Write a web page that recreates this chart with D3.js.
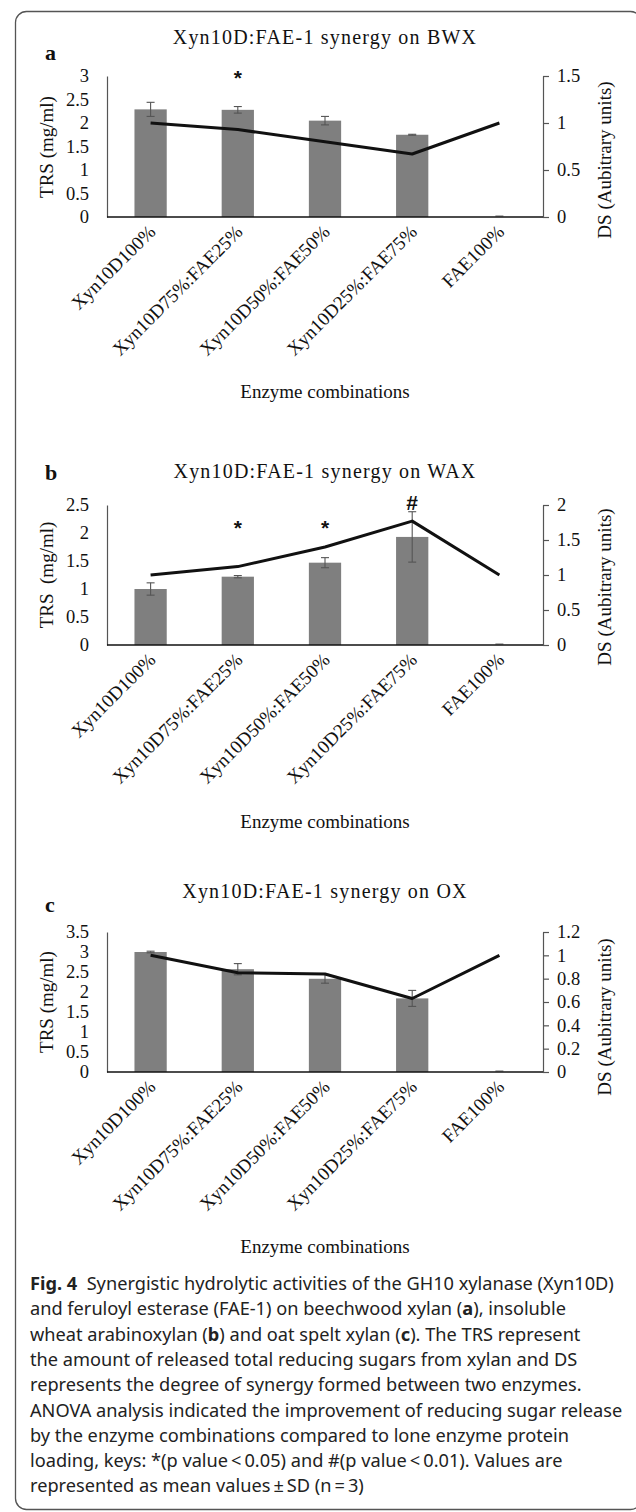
<!DOCTYPE html>
<html><head><meta charset="utf-8">
<script src="https://cdn.jsdelivr.net/npm/d3@7/dist/d3.min.js"></script>
<style>
body{margin:0;background:#fff;}
svg{display:block;}
</style></head>
<body>
<script>
// ---------- DATA ----------
const categories = ["Xyn10D100%","Xyn10D75%:FAE25%","Xyn10D50%:FAE50%","Xyn10D25%:FAE75%","FAE100%"];
// Panel a: BWX
const trsA = [2.29, 2.28, 2.05, 1.75, 0];
const sdA  = [0.15, 0.07, 0.09, 0.01, 0];
const dsA  = [1.0, 0.93, 0.80, 0.67, 1.0];
const sigA = ["", "*", "", "", ""];
// Panel b: WAX
const trsB = [1.0, 1.22, 1.47, 1.93, 0];
const sdB  = [0.11, 0.02, 0.09, 0.45, 0];
const dsB  = [1.0, 1.12, 1.40, 1.77, 1.0];
const sigB = ["", "*", "*", "#", ""];
// Panel c: OX
const trsC = [3.0, 2.57, 2.33, 1.84, 0];
const sdC  = [0.02, 0.14, 0.11, 0.20, 0];
const dsC  = [1.0, 0.85, 0.84, 0.63, 1.0];
const sigC = ["", "", "", "", ""];
// tick values
const ticksLeftA  = [0,0.5,1,1.5,2,2.5,3];
const ticksRightA = [0,0.5,1,1.5];
const ticksLeftB  = [0,0.5,1,1.5,2,2.5];
const ticksRightB = [0,0.5,1,1.5,2];
const ticksLeftC  = [0,0.5,1,1.5,2,2.5,3,3.5];
const ticksRightC = [0,0.2,0.4,0.6,0.8,1,1.2];
const titles = ["Xyn10D:FAE-1 synergy on BWX","Xyn10D:FAE-1 synergy on WAX","Xyn10D:FAE-1 synergy on OX"];
const letters = ["a","b","c"];
const trsLabels = ["TRS (mg/ml)","TRS\u00a0\u00a0(mg/ml)","TRS (mg/ml)"];
const dsLabel = "DS (Aubitrary units)";
const xLabel = "Enzyme combinations";

// ---------- LAYOUT ----------
const W = 636, H = 1512;
const SERIF = "'Liberation Serif','Times New Roman',serif";
const SANS = "'Noto Sans','Open Sans',sans-serif";
const svg = d3.select("body").append("svg").attr("width", W).attr("height", H);

// frame
svg.append("rect").attr("x",15.5).attr("y",11.5).attr("width",626).attr("height",1498)
  .attr("rx",11).attr("fill","none").attr("stroke","#555").attr("stroke-width",1.3);

const panels = [
  {title:titles[0], letter:letters[0], trs:trsA, sd:sdA, ds:dsA, sig:sigA, tl:ticksLeftA, tr:ticksRightA,
   top:76, bottom:217, titleY:44, letterY:60, trsLab:trsLabels[0], trsCY:147, dsCY:160, xLabY:398, sigY:{"*":73,"#":73}},
  {title:titles[1], letter:letters[1], trs:trsB, sd:sdB, ds:dsB, sig:sigB, tl:ticksLeftB, tr:ticksRightB,
   top:505, bottom:645, titleY:478, letterY:480, trsLab:trsLabels[1], trsCY:575, dsCY:587, xLabY:828, sigY:{"*":523,"#":503}},
  {title:titles[2], letter:letters[2], trs:trsC, sd:sdC, ds:dsC, sig:sigC, tl:ticksLeftC, tr:ticksRightC,
   top:932, bottom:1072, titleY:898, letterY:912, trsLab:trsLabels[2], trsCY:1002, dsCY:1017, xLabY:1253, sigY:{"*":900,"#":900}}
];
const left = 107, right = 543;

panels.forEach(p => {
  const g = svg.append("g");
  const x = d3.scaleBand().domain(categories).range([left, right]).paddingInner(0.63).paddingOuter(0.315);
  const yL = d3.scaleLinear().domain([0, d3.max(p.tl)]).range([p.bottom, p.top]);
  const yR = d3.scaleLinear().domain([0, d3.max(p.tr)]).range([p.bottom, p.top]);
  const cx = d => x(d) + x.bandwidth()/2;

  // title & letter
  g.append("text").attr("x", 325).attr("y", p.titleY).attr("text-anchor","middle")
    .attr("font-family", SERIF).attr("font-size", 20).attr("letter-spacing", 1.2).attr("fill","#111").text(p.title);
  g.append("text").attr("x", 45).attr("y", p.letterY).attr("font-family", SERIF).attr("font-weight","bold")
    .attr("font-size", 22).attr("fill","#111").text(p.letter);

  // left axis
  const axL = d3.axisLeft(yL).tickValues(p.tl).tickSize(0).tickPadding(18).tickFormat(d3.format("~g"));
  const gl = g.append("g").attr("transform", `translate(${left},0)`).call(axL);
  gl.select(".domain").attr("stroke","#555").attr("stroke-width",1.2);
  gl.selectAll("text").attr("font-family", SERIF).attr("font-size", 18.5).attr("fill","#111");

  // right axis
  const axR = d3.axisRight(yR).tickValues(p.tr).tickSize(6).tickSizeOuter(0).tickPadding(8).tickFormat(d3.format("~g"));
  const gr = g.append("g").attr("transform", `translate(${right},0)`).call(axR);
  gr.select(".domain").attr("stroke","#555").attr("stroke-width",1.2);
  gr.selectAll(".tick line").attr("stroke","#555").attr("stroke-width",1.2);
  gr.selectAll("text").attr("font-family", SERIF).attr("font-size", 18.5).attr("fill","#111");

  // bars
  g.selectAll("rect.bar").data(categories).enter().append("rect")
    .attr("x", d => x(d)).attr("width", x.bandwidth())
    .attr("y", (d,i) => yL(p.trs[i])).attr("height", (d,i) => Math.max(0, p.bottom - yL(p.trs[i])))
    .attr("fill", "#7f7f7f");

  // error bars
  categories.forEach((d,i) => {
    if (p.trs[i] === 0) {
      g.append("line").attr("x1", cx(d)-4).attr("x2", cx(d)+4).attr("y1", p.bottom-1).attr("y2", p.bottom-1)
        .attr("stroke","#666").attr("stroke-width",1);
      return;
    }
    const y1 = yL(p.trs[i] + p.sd[i]), y2 = yL(p.trs[i] - p.sd[i]);
    const eg = g.append("g").attr("stroke","#555").attr("stroke-width",1.1);
    eg.append("line").attr("x1",cx(d)).attr("x2",cx(d)).attr("y1",y1).attr("y2",y2);
    eg.append("line").attr("x1",cx(d)-4).attr("x2",cx(d)+4).attr("y1",y1).attr("y2",y1);
    eg.append("line").attr("x1",cx(d)-4).attr("x2",cx(d)+4).attr("y1",y2).attr("y2",y2);
  });

  // x axis line
  g.append("line").attr("x1", left).attr("x2", right).attr("y1", p.bottom).attr("y2", p.bottom)
    .attr("stroke","#111").attr("stroke-width",1.6);

  // DS line
  const line = d3.line().x((d,i) => cx(categories[i])).y(d => yR(d));
  g.append("path").datum(p.ds).attr("d", line).attr("fill","none").attr("stroke","#111")
    .attr("stroke-width",3).attr("stroke-linejoin","round");

  // significance marks
  categories.forEach((d,i) => {
    const s = p.sig[i];
    if (!s) return;
    g.append("text").attr("x", cx(d)).attr("y", p.sigY[s] + (s === "*" ? 12 : 7)).attr("text-anchor","middle")
      .attr("font-family","'Liberation Sans',Arial,sans-serif").attr("font-weight","bold").attr("font-size", 21)
      .attr("fill","#111").text(s);
  });

  // x labels rotated
  categories.forEach(d => {
    g.append("text").attr("transform", `translate(${cx(d)+6},${p.bottom+16}) rotate(-45)`)
      .attr("text-anchor","end").attr("font-family", SERIF).attr("font-size", 19).attr("fill","#111").text(d);
  });

  // axis titles
  g.append("text").attr("transform", `translate(53,${p.trsCY}) rotate(-90)`).attr("text-anchor","middle")
    .attr("font-family", SERIF).attr("font-size", 19).attr("fill","#111").text(p.trsLab);
  g.append("text").attr("transform", `translate(611,${p.dsCY}) rotate(-90)`).attr("text-anchor","middle")
    .attr("font-family", SERIF).attr("font-size", 19).attr("fill","#111").text(dsLabel);
  g.append("text").attr("x", 325).attr("y", p.xLabY).attr("text-anchor","middle")
    .attr("font-family", SERIF).attr("font-size", 19).attr("fill","#111").text(xLabel);
});

// ---------- CAPTION ----------
const capLines = [
  [["Fig. 4", true], ["  Synergistic hydrolytic activities of the GH10 xylanase (Xyn10D)", false]],
  [["and feruloyl esterase (FAE-1) on beechwood xylan (", false], ["a", true], ["), insoluble", false]],
  [["wheat arabinoxylan (", false], ["b", true], [") and oat spelt xylan (", false], ["c", true], ["). The TRS represent", false]],
  [["the amount of released total reducing sugars from xylan and DS", false]],
  [["represents the degree of synergy formed between two enzymes.", false]],
  [["ANOVA analysis indicated the improvement of reducing sugar release", false]],
  [["by the enzyme combinations compared to lone enzyme protein", false]],
  [["loading, keys: *(p value\u2009<\u20090.05) and #(p value\u2009<\u20090.01). Values are", false]],
  [["represented as mean values\u2009\u00b1\u2009SD (n\u2009=\u20093)", false]]
];
const cap = svg.append("g").attr("font-family", SANS).attr("font-size", 18.2).attr("fill","#222");
capLines.forEach((ln, i) => {
  const t = cap.append("text").attr("x", 30).attr("y", 1290 + i*25.3).attr("xml:space","preserve");
  ln.forEach(([s,b]) => {
    t.append("tspan").attr("font-weight", b ? "bold" : "normal").text(s);
  });
});
</script>
</body></html>
